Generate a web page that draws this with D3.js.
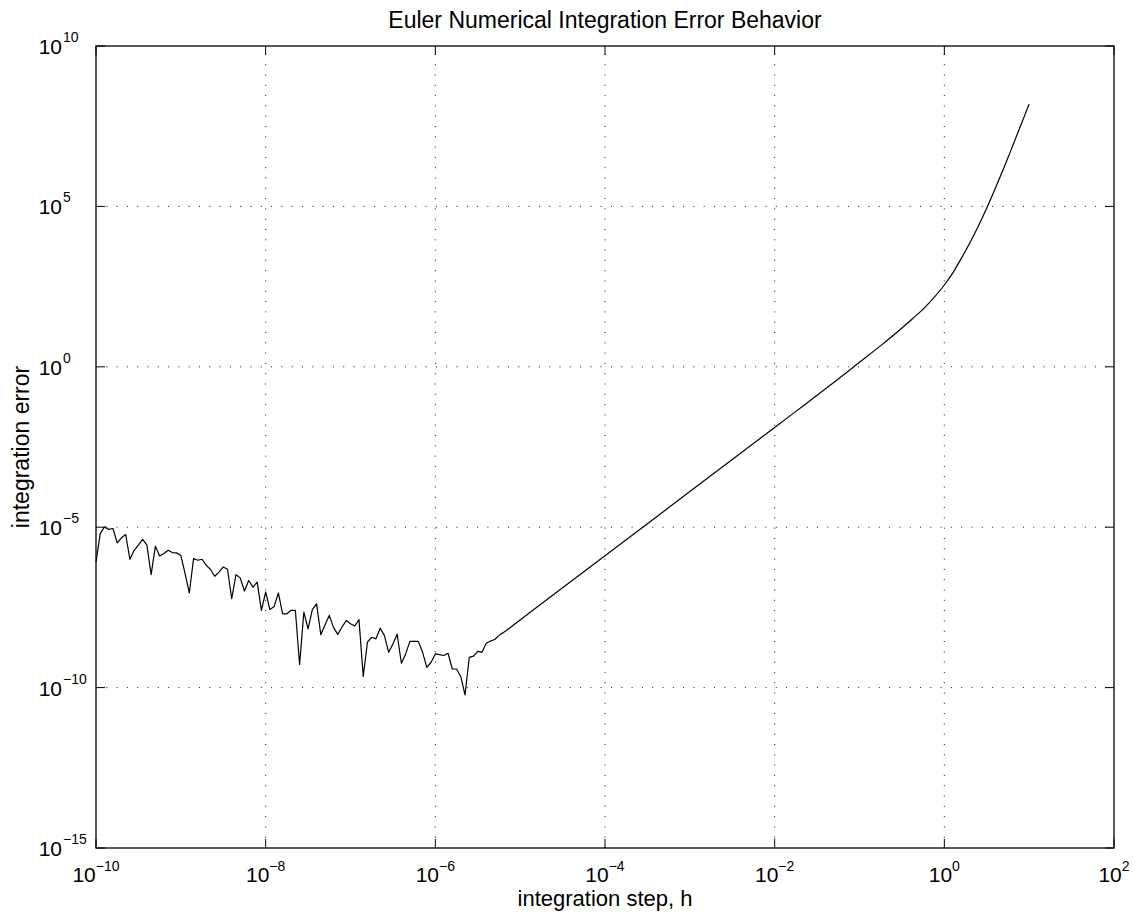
<!DOCTYPE html>
<html>
<head>
<meta charset="utf-8">
<script src="https://cdnjs.cloudflare.com/ajax/libs/d3/7.8.5/d3.min.js"></script>
<style>
  body { margin: 0; background: #fff; }
  svg text { font-family: "Liberation Sans", Arial, sans-serif; fill: #000; }
</style>
</head>
<body>
<div id="chart"></div>
<script>
const width = 1135;
const height = 916;
const margin = { left: 96, right: 21, top: 46, bottom: 68 };

// log10 of integration step h, and log10 of the error
const stepExp = [
  -10.00, -9.95, -9.90, -9.85, -9.80, -9.75, -9.70, -9.65, -9.60, -9.55,
  -9.50, -9.45, -9.40, -9.35, -9.30, -9.25, -9.20, -9.15, -9.10, -9.05,
  -9.00, -8.95, -8.90, -8.85, -8.80, -8.75, -8.70, -8.65, -8.60, -8.55,
  -8.50, -8.45, -8.40, -8.35, -8.30, -8.25, -8.20, -8.15, -8.10, -8.05,
  -8.00, -7.95, -7.90, -7.85, -7.80, -7.75, -7.70, -7.65, -7.60, -7.55,
  -7.50, -7.45, -7.40, -7.35, -7.30, -7.25, -7.20, -7.15, -7.10, -7.05,
  -7.00, -6.95, -6.90, -6.85, -6.80, -6.75, -6.70, -6.65, -6.60, -6.55,
  -6.50, -6.45, -6.40, -6.35, -6.30, -6.25, -6.20, -6.15, -6.10, -6.05,
  -6.00, -5.95, -5.90, -5.85, -5.80, -5.75, -5.70, -5.65, -5.60, -5.55,
  -5.50, -5.45, -5.40, -5.35, -5.30, -5.25,
  // smooth part
  -5.20, -5.00, -4.50, -4.00, -3.50, -3.00, -2.50, -2.00, -1.75, -1.50,
  -1.25, -1.00, -0.75, -0.50, -0.375, -0.25, -0.125, 0.00, 0.10, 0.20,
  0.30, 0.40, 0.50, 0.60, 0.70, 0.80, 0.90, 1.00
];
const errExp = [
  -6.08, -5.20, -4.99, -5.07, -5.04, -5.49, -5.33, -5.23, -6.00, -5.72,
  -5.56, -5.38, -5.56, -6.48, -5.59, -5.90, -5.82, -5.72, -5.79, -5.80,
  -5.88, -6.45, -7.05, -5.98, -6.03, -6.00, -6.19, -6.32, -6.53, -6.40,
  -6.24, -6.31, -7.23, -6.48, -6.58, -6.99, -6.66, -6.87, -6.71, -7.59,
  -7.02, -7.57, -7.47, -7.05, -7.70, -7.70, -7.59, -7.59, -9.28, -7.65,
  -8.17, -7.57, -7.39, -8.35, -8.04, -7.75, -8.13, -8.34, -8.11, -7.91,
  -8.01, -8.08, -7.88, -9.65, -8.58, -8.43, -8.48, -8.15, -8.38, -8.90,
  -8.64, -8.34, -9.24, -8.95, -8.56, -8.56, -8.56, -8.90, -9.37, -9.21,
  -8.95, -8.97, -9.00, -8.93, -9.42, -9.42, -9.66, -10.23, -9.06, -9.02,
  -8.87, -8.90, -8.62, -8.55, -8.50, -8.37,
  // smooth part
  -8.29, -7.89, -6.89, -5.89, -4.89, -3.89, -2.89, -1.89, -1.39, -0.89,
  -0.38, 0.14, 0.66, 1.21, 1.50, 1.80, 2.15, 2.55, 2.93, 3.38,
  3.86, 4.38, 4.95, 5.56, 6.19, 6.85, 7.52, 8.19
];
const smoothFrom = -5.25; // from this step on the curve is smooth

const xTickExp = [-10, -8, -6, -4, -2, 0, 2];
const yTickExp = [-15, -10, -5, 0, 5, 10];

const titleText = "Euler Numerical Integration Error Behavior";
const xLabelText = "integration step, h";
const yLabelText = "integration error";

const data = stepExp.map((e, i) => ({ e: e, h: Math.pow(10, e), err: Math.pow(10, errExp[i]) }));
const noisyPart = data.filter(d => d.e <= smoothFrom);
const smoothPart = data.filter(d => d.e >= smoothFrom);

const svg = d3.select("#chart").append("svg")
    .attr("width", width)
    .attr("height", height);

const x = d3.scaleLog()
    .domain([1e-10, 1e2])
    .range([margin.left, width - margin.right]);

const y = d3.scaleLog()
    .domain([1e-15, 1e10])
    .range([height - margin.bottom, margin.top]);

const x0 = x.range()[0], x1 = x.range()[1];
const y0 = y.range()[0], y1 = y.range()[1];
const tickLen = 9;

// dotted grid
const grid = svg.append("g")
    .attr("stroke", "#111")
    .attr("stroke-width", 1)
    .attr("stroke-dasharray", "1,9.3");

grid.selectAll(".vgrid")
    .data(xTickExp.slice(1, -1))
    .join("line")
    .attr("class", "vgrid")
    .attr("x1", d => x(Math.pow(10, d)))
    .attr("x2", d => x(Math.pow(10, d)))
    .attr("y1", y0)
    .attr("y2", y1);

grid.selectAll(".hgrid")
    .data(yTickExp.slice(1, -1))
    .join("line")
    .attr("class", "hgrid")
    .attr("x1", x0)
    .attr("x2", x1)
    .attr("y1", d => y(Math.pow(10, d)))
    .attr("y2", d => y(Math.pow(10, d)));

// ticks on all four sides, pointing inward
const ticks = svg.append("g")
    .attr("stroke", "#000")
    .attr("stroke-width", 1);

xTickExp.forEach(e => {
    const px = x(Math.pow(10, e));
    ticks.append("line").attr("x1", px).attr("x2", px).attr("y1", y0).attr("y2", y0 - tickLen);
    ticks.append("line").attr("x1", px).attr("x2", px).attr("y1", y1).attr("y2", y1 + tickLen);
});

yTickExp.forEach(e => {
    const py = y(Math.pow(10, e));
    ticks.append("line").attr("x1", x0).attr("x2", x0 + tickLen).attr("y1", py).attr("y2", py);
    ticks.append("line").attr("x1", x1).attr("x2", x1 - tickLen).attr("y1", py).attr("y2", py);
});

// data line: noisy part straight segments, smooth part curved
const line = d3.line()
    .x(d => x(d.h))
    .y(d => y(d.err));

const smoothLine = d3.line()
    .x(d => x(d.h))
    .y(d => y(d.err))
    .curve(d3.curveMonotoneX);

svg.append("path")
    .datum(noisyPart)
    .attr("fill", "none")
    .attr("stroke", "#000")
    .attr("stroke-width", 1.2)
    .attr("stroke-linejoin", "round")
    .attr("d", line);

svg.append("path")
    .datum(smoothPart)
    .attr("fill", "none")
    .attr("stroke", "#000")
    .attr("stroke-width", 1.2)
    .attr("stroke-linejoin", "round")
    .attr("d", smoothLine);

// axes box
svg.append("rect")
    .attr("x", x0)
    .attr("y", y1)
    .attr("width", x1 - x0)
    .attr("height", y0 - y1)
    .attr("fill", "none")
    .attr("stroke", "#000")
    .attr("stroke-width", 1.3);

const expText = e => (e < 0 ? "\u2212" + Math.abs(e) : String(e));

// x tick labels
xTickExp.forEach(e => {
    const t = svg.append("text")
        .attr("x", x(Math.pow(10, e)))
        .attr("y", y0 + 34)
        .attr("text-anchor", "middle")
        .style("font-size", "21px");
    t.append("tspan").text("10");
    t.append("tspan")
        .attr("dy", -11)
        .style("font-size", "14px")
        .text(expText(e));
});

// y tick labels
yTickExp.forEach(e => {
    const py = y(Math.pow(10, e));
    svg.append("text")
        .attr("x", 62)
        .attr("y", py + 8)
        .attr("text-anchor", "end")
        .style("font-size", "21px")
        .text("10");
    svg.append("text")
        .attr("x", 63)
        .attr("y", py - 4)
        .style("font-size", "14px")
        .text(expText(e));
});

// title and axis labels
svg.append("text")
    .attr("x", (x0 + x1) / 2)
    .attr("y", 28)
    .attr("text-anchor", "middle")
    .style("font-size", "23px")
    .text(titleText);

svg.append("text")
    .attr("x", (x0 + x1) / 2)
    .attr("y", 906)
    .attr("text-anchor", "middle")
    .style("font-size", "22px")
    .text(xLabelText);

svg.append("text")
    .attr("transform", `translate(29, ${(y0 + y1) / 2}) rotate(-90)`)
    .attr("text-anchor", "middle")
    .style("font-size", "23px")
    .text(yLabelText);
</script>
</body>
</html>
